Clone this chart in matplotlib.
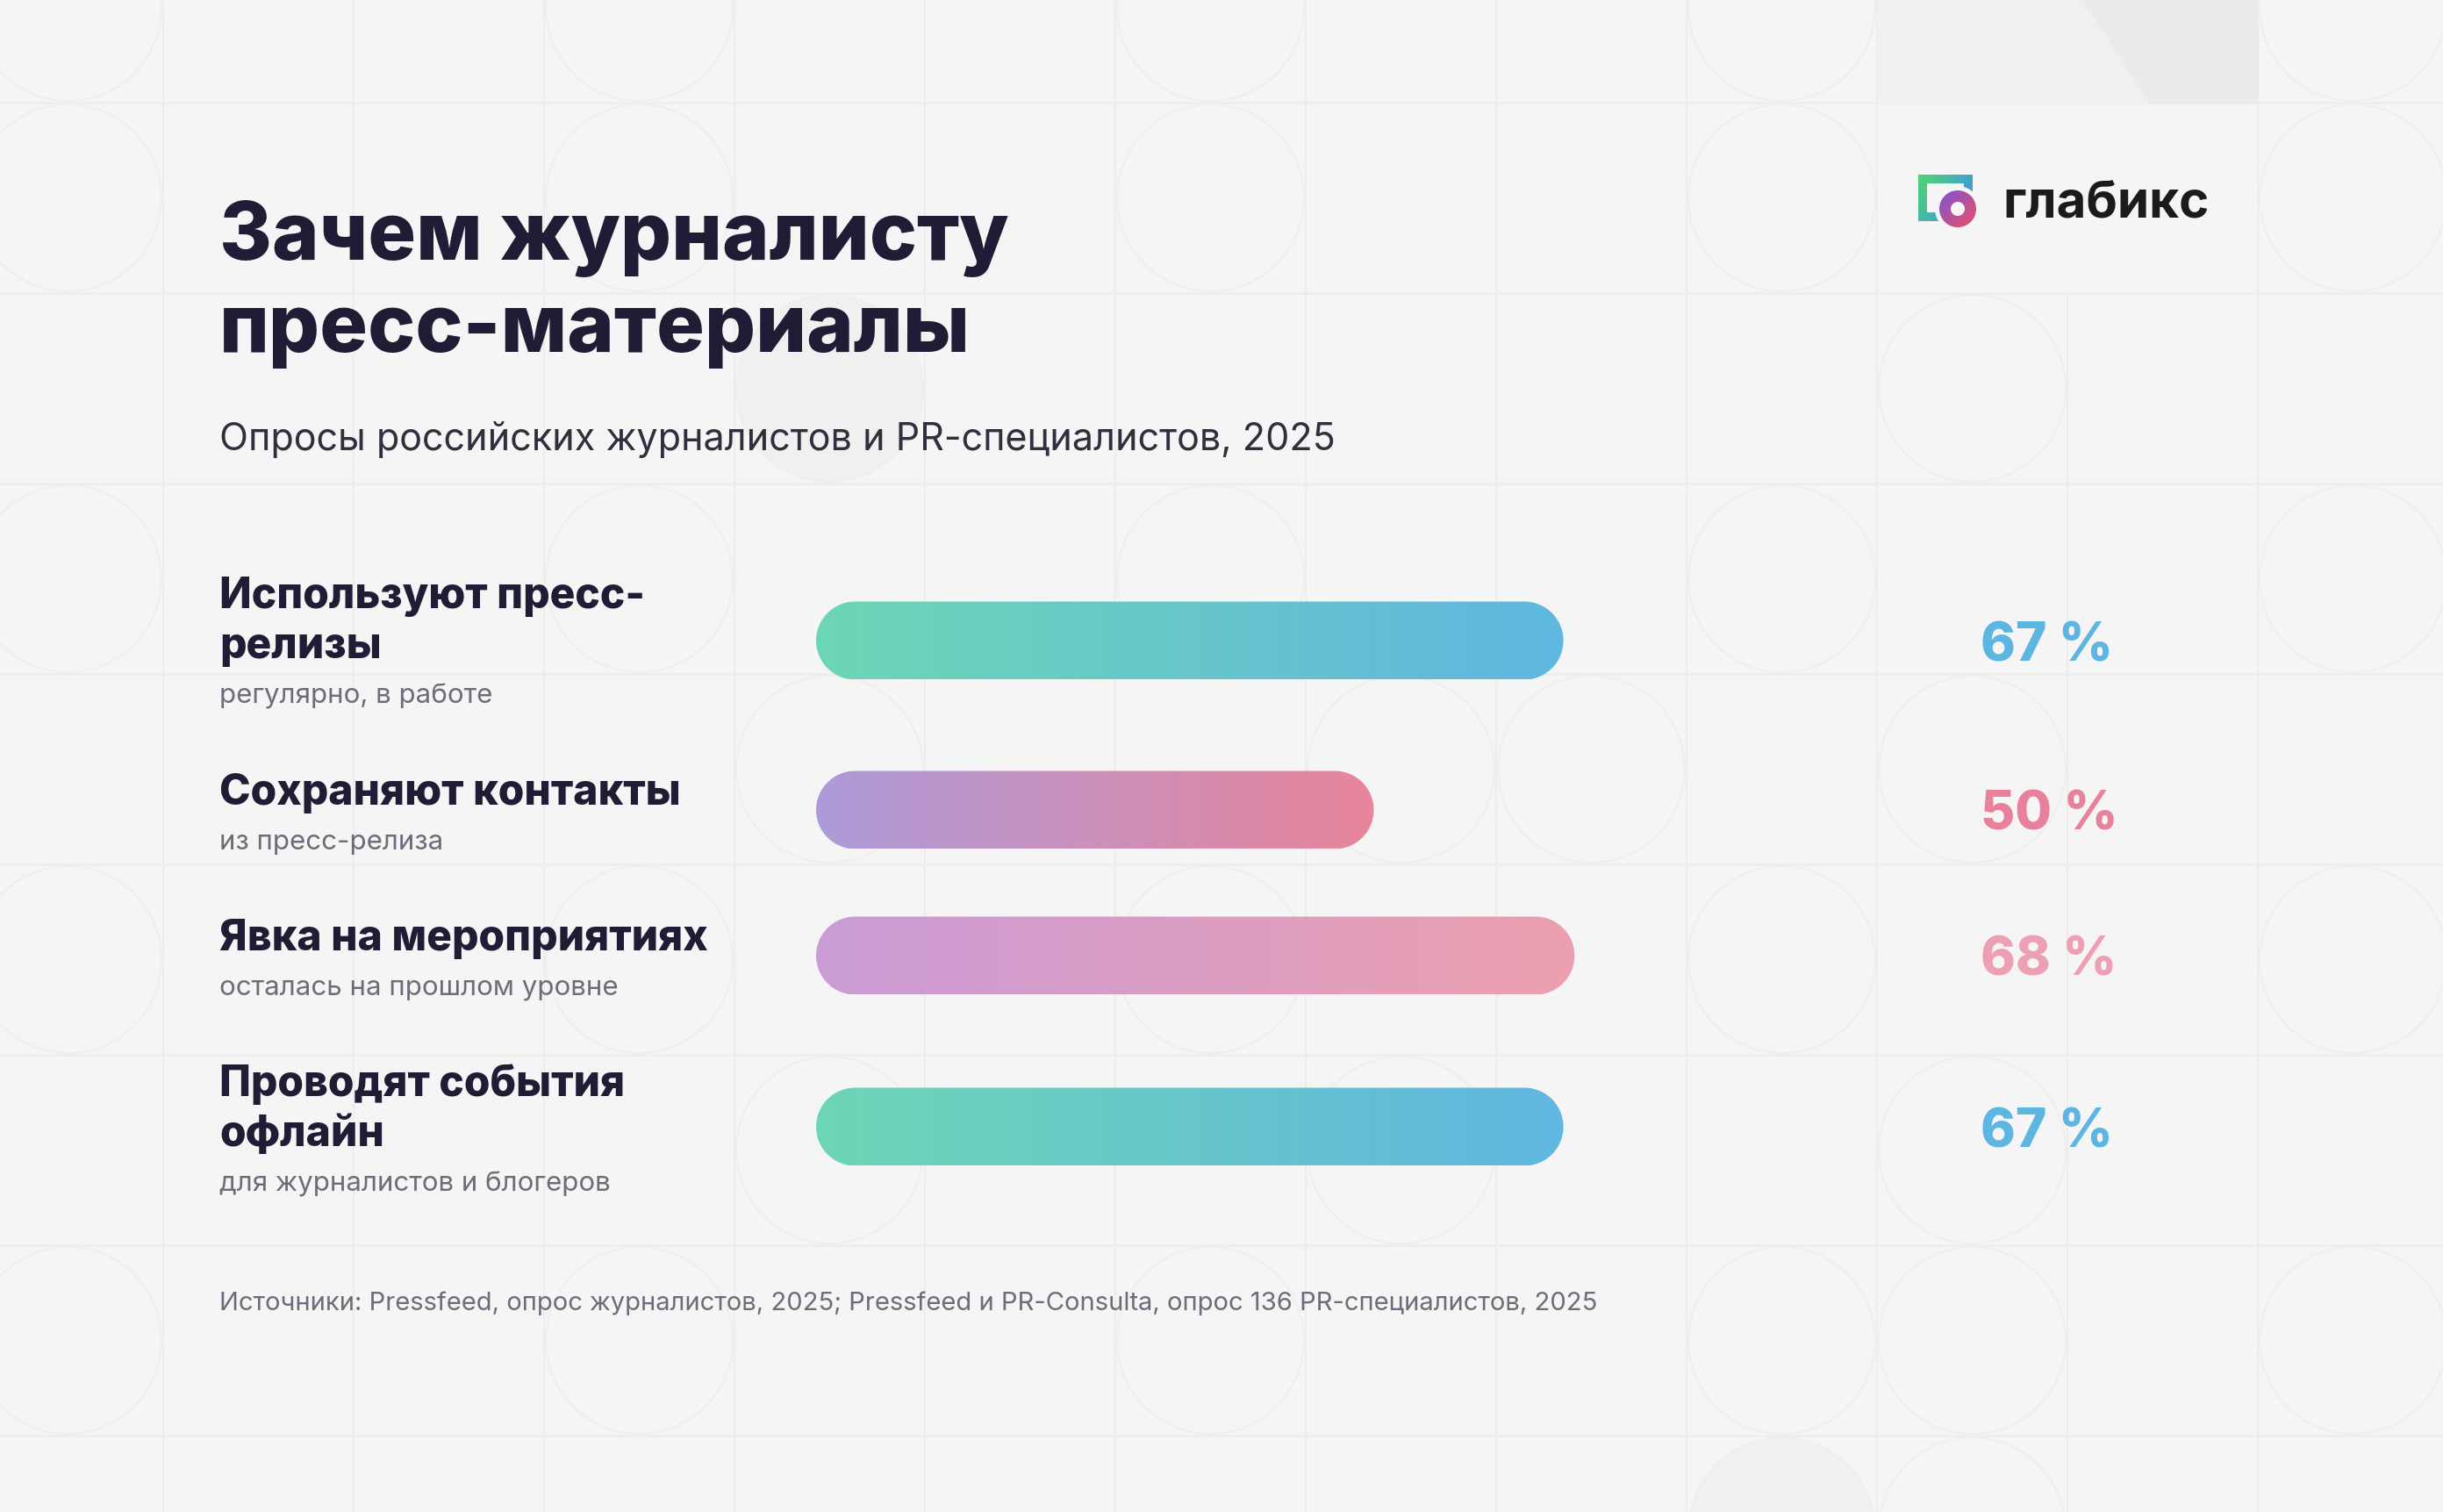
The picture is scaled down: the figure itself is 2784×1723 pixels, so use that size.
import numpy as np
import matplotlib as mpl
mpl.use("Agg")
import matplotlib.pyplot as plt
from matplotlib.path import Path
from matplotlib.patches import PathPatch, Rectangle, Ellipse, Circle, Annulus, Polygon
from matplotlib.collections import LineCollection
from matplotlib.colors import to_rgb

mpl.rcParams.update({"font.family": ["Inter", "DejaVu Sans"]})

# ---- data ----
labels = ["Используют пресс-\nрелизы", "Сохраняют контакты",
          "Явка на мероприятиях", "Проводят события\nофлайн"]
notes = ["регулярно, в работе", "из пресс-релиза",
         "осталась на прошлом уровне", "для журналистов и блогеров"]
values = [67, 50, 68, 67]
bar_left = ["#6dd6b5", "#ad9bd9", "#ca9bd6", "#6dd6b5"]
bar_right = ["#60b7e1", "#e8859b", "#eda0af", "#60b7e1"]
pct_colors = ["#5db5e1", "#e8819b", "#eda0b3", "#5db5e1"]

title = "Зачем журналисту\nпресс-материалы"
subtitle = "Опросы российских журналистов и PR-специалистов, 2025"
source = ("Источники: Pressfeed, опрос журналистов, 2025; Pressfeed и PR-Consulta, "
          "опрос 136 PR-специалистов, 2025")

BG, LINE = "#f5f5f5", "#ededed"
TITLE, SUB, GRAY = "#1e1d35", "#2f2f3d", "#6d6d7a"

W, H = 2784, 1723
fig = plt.figure(figsize=(W / 100, H / 100), dpi=100, facecolor=BG)

# background axes in pixel coords
bg = fig.add_axes([0, 0, 1, 1])
bg.set_xlim(0, W); bg.set_ylim(H, 0); bg.axis("off")
bg.set_facecolor(BG)

# faint grid pattern
cell = 217
gx = [-31 + cell * i for i in range(14)]
gy = [-100 + cell * j for j in range(10)]
for x in gx[1:]:
    bg.plot([x, x], [0, H], color=LINE, lw=1.6, zorder=0)
for y in gy[1:]:
    bg.plot([0, W], [y, y], color=LINE, lw=1.8, zorder=0)
circ_cells = [(c, r) for c in (0, 3, 6, 9, 12) for r in (0, 1, 3, 5, 7)]
circ_cells += [(4, 4), (4, 6), (7, 4), (7, 6), (8, 4), (10, 2), (10, 4), (10, 6),
               (10, 7), (4, 2), (9, 8), (10, 8)]
for c, r in circ_cells:
    cx, cy = gx[c] + cell / 2, gy[r] + cell / 2
    filled = (c, r) in [(9, 8), (4, 2)]
    bg.add_patch(Ellipse((cx, cy), cell - 4, cell - 4, fc="#f0f0f0" if filled else "none",
                         ec="#eeeeee", lw=1.3, zorder=0))

# top-right panel
bg.add_patch(Rectangle((2141, 0), 433, 118, fc="#f0f0f0", ec="none", zorder=1))
bg.add_patch(Polygon([(2373, 0), (2574, 0), (2574, 118), (2449, 118)], closed=True,
                     fc="#ebebeb", ec="none", zorder=1))
bg.add_patch(Rectangle((2143, 120), 429, 212, fc=BG, ec="none", zorder=1))

# ---- logo ----
def grad(c1, c2, t):
    a, b = np.array(to_rgb(c1)), np.array(to_rgb(c2))
    return a + (b - a) * t

pts = np.array([[2243, 222], [2243, 204], [2191, 204], [2191, 247], [2214, 247]], float)
segs, cols = [], []
for p, q in zip(pts[:-1], pts[1:]):
    for s in np.linspace(0, 1, 20)[:-1]:
        a = p + (q - p) * s; b = p + (q - p) * (s + 1 / 19)
        segs.append([a, b])
        t = np.clip(((a[0] - 2191) * 1.2 + (a[1] - 204) * 0.6) / 90, 0, 1)
        cols.append(grad("#4fd07a", "#3a8ef0", t))
bg.add_collection(LineCollection(segs, colors=cols, linewidths=7, capstyle="projecting", zorder=3))
bg.add_patch(Circle((2231, 238), 26, fc=BG, ec="none", zorder=4))
ring = Annulus((2231, 238), 21, 13, fc="none", ec="none", zorder=5)
bg.add_patch(ring)
gg = np.linspace(0, 1, 64)
diag = (gg[None, :] + gg[:, None]) / 2
rgb = np.dstack([np.interp(diag, [0, 1], [to_rgb("#7b55d8")[k], to_rgb("#ee4f63")[k]]) for k in range(3)])
im = bg.imshow(rgb, extent=(2209, 2253, 260, 216), zorder=5, interpolation="bilinear")
im.set_clip_path(ring)
bg.text(2282, 248, "глабикс", fontsize=42, fontweight="bold", color="#1b1b1b",
        va="baseline", ha="left", zorder=6)
bg.set_xlim(0, W); bg.set_ylim(H, 0)

# ---- titles ----
for line, yb in zip(title.split("\n"), [296, 401]):
    bg.text(250, yb, line, fontsize=65.7, fontweight="heavy", color=TITLE, va="baseline", zorder=6)
bg.text(250, 513, subtitle, fontsize=31, color=SUB, va="baseline", zorder=6)
bg.text(250, 1493, source, fontsize=21, color=GRAY, va="baseline", zorder=6)

# ---- row labels ----
row_y = [730, 923, 1089, 1284]
label_base = [693, 917, 1083, 1249]
for lab, note, yb in zip(labels, notes, label_base):
    lines = lab.split("\n")
    for k, ln in enumerate(lines):
        bg.text(250, yb + 57 * k, ln, fontsize=34.5, fontweight="heavy", color=TITLE,
                va="baseline", zorder=6)
    bg.text(250, yb + 57 * (len(lines) - 1) + 51, note, fontsize=22.5, color=GRAY,
            va="baseline", zorder=6)

# ---- bars ----
x0, w100 = 930, 1271
ax = fig.add_axes([x0 / W, 0, w100 / W, 1])
ax.set_xlim(0, 100); ax.set_ylim(H, 0); ax.axis("off")
ax.patch.set_alpha(0)
px = w100 / 100.0
bh = 89
ry = bh / 2; rx = ry / px
for v, yc, cl, cr, pc in zip(values, row_y, bar_left, bar_right, pct_colors):
    t1 = np.linspace(-np.pi / 2, np.pi / 2, 60)
    t2 = np.linspace(np.pi / 2, 3 * np.pi / 2, 60)
    xs = np.r_[v - rx + rx * np.cos(t1), rx + rx * np.cos(t2)]
    ys = np.r_[yc + ry * np.sin(t1), yc + ry * np.sin(t2)]
    patch = PathPatch(Path(np.c_[xs, ys]), fc="none", ec="none")
    ax.add_patch(patch)
    g = np.linspace(0, 1, 256)
    img = np.dstack([np.interp(g, [0, 1], [to_rgb(cl)[k], to_rgb(cr)[k]])[None, :] for k in range(3)])
    im = ax.imshow(img, extent=(0, v, yc + ry, yc - ry), aspect="auto", zorder=3,
                   interpolation="bilinear")
    im.set_clip_path(patch)
    bg.text(2257, yc + 23, f"{v} %", fontsize=43.5, fontweight="heavy", color=pc,
            va="baseline", ha="left", zorder=6)
ax.set_xlim(0, 100); ax.set_ylim(H, 0)

fig.savefig("out.png", dpi=100, facecolor=BG)
